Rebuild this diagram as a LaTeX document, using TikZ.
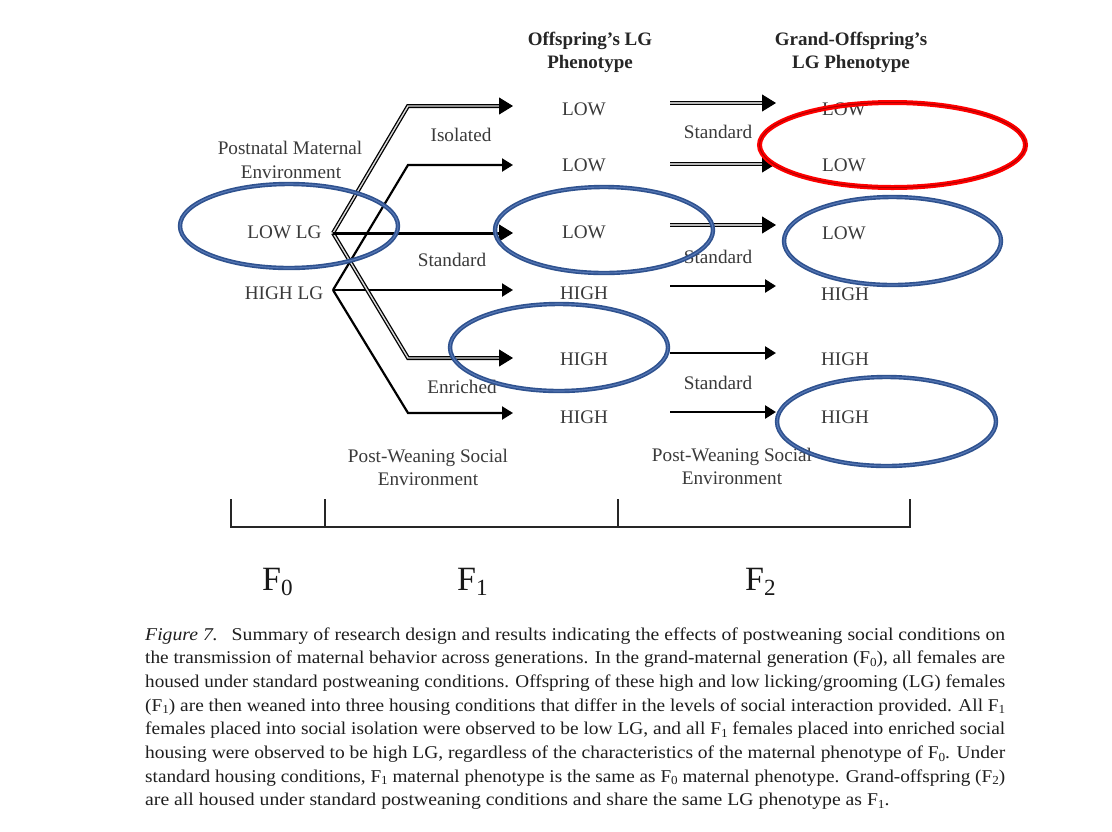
\documentclass[tikz,border=0pt]{standalone}
\usepackage{fontspec}
\setmainfont{Liberation Serif}
\usepackage{graphicx}
\usetikzlibrary{arrows.meta}

\definecolor{ink}{HTML}{3A3A3A}
\definecolor{capink}{HTML}{1E1E1E}
\definecolor{ovalblue}{HTML}{2F528F}
\definecolor{ovalblueinner}{HTML}{5677B5}
\definecolor{ovalred}{HTML}{FF0000}
\definecolor{ovalredinner}{HTML}{B00000}

\newlength\capnat
\newcommand\lowdigit[1]{\raisebox{-0.32ex}{\scalebox{0.68}{#1}}}
\newcommand\capfont{\fontsize{18}{22}\selectfont}
\newcommand\capfirst{\textit{Figure 7.}\hspace{0.7em}Summary of research design and results indicating the effects of postweaning social conditions on}

\begin{document}
\begin{tikzpicture}[x=1pt,y=-1pt,
  lbl/.style={font=\fontsize{19.2}{21}\selectfont, text=ink, inner sep=0pt, anchor=base},
  hdr/.style={font=\bfseries\fontsize{19}{22}\selectfont, text=black!85, inner sep=0pt, anchor=base},
  gen/.style={font=\fontsize{34}{36}\selectfont, text=black!90, inner sep=0pt, anchor=base west},
  capline/.style={font=\capfont, text=capink, inner sep=0pt, anchor=base west},
  single/.style={draw=black, line width=2.2pt},
  heavy/.style={draw=black, line width=3pt},
  hollow/.style={draw=black, line width=1.3pt, double=gray!30, double distance=1.4pt, line join=miter},
  hollowdark/.style={draw=black, line width=1.6pt, double=gray!55, double distance=1.3pt},
  bigtip/.style={-{Triangle[length=14pt,width=17pt]}, draw=black, line width=1pt},
  smalltip/.style={-{Triangle[length=11pt,width=13pt]}},
  oval/.style={draw=ovalblue, line width=4.4pt},
  ovalcore/.style={draw=ovalblueinner, line width=1.1pt},
  redoval/.style={draw=ovalred, line width=5pt},
  redcore/.style={draw=ovalredinner, line width=1pt},
  timeline/.style={draw=black!85, line width=2.4pt, line cap=rect}
]
\useasboundingbox[fill=white] (0,0) rectangle (1112,831);

% ---------- headers ----------
\node[hdr] (h1a) at (590,45.5) {Offspring’s LG};
\node[hdr] (h1b) at (590,68.5) {Phenotype};
\node[hdr] (h2a) at (851,45.5) {Grand-Offspring’s};
\node[hdr] (h2b) at (851,68.5) {LG Phenotype};

% ---------- maternal generation ----------
\node[lbl] (pm1) at (290,154) {Postnatal Maternal};
\node[lbl] (pm2) at (291,178) {Environment};
\node[lbl] (lowlg) at (284.5,238) {LOW LG};
\node[lbl] (highlg) at (284,299) {HIGH LG};

% ---------- offspring phenotypes ----------
\node[lbl] (o1) at (584,115) {LOW};
\node[lbl] (o2) at (584,171) {LOW};
\node[lbl] (o3) at (584,238) {LOW};
\node[lbl] (o4) at (584,299) {HIGH};
\node[lbl] (o5) at (584,365) {HIGH};
\node[lbl] (o6) at (584,423) {HIGH};

% ---------- grand-offspring phenotypes ----------
\node[lbl] (g1) at (844,115) {LOW};
\node[lbl] (g2) at (844,171) {LOW};
\node[lbl] (g3) at (844,239) {LOW};
\node[lbl] (g4) at (845,300) {HIGH};
\node[lbl] (g5) at (845,365) {HIGH};
\node[lbl] (g6) at (845,423) {HIGH};

% ---------- housing labels ----------
\node[lbl] (iso) at (461,141) {Isolated};
\node[lbl] (std) at (452,266) {Standard};
\node[lbl] (enr) at (462,393) {Enriched};
\node[lbl] (rs1) at (718,138) {Standard};
\node[lbl] (rs2) at (718,263) {Standard};
\node[lbl] (rs3) at (718,389) {Standard};

\node[lbl] (pw1a) at (428,462) {Post-Weaning Social};
\node[lbl] (pw1b) at (428,485) {Environment};
\node[lbl] (pw2a) at (732,461) {Post-Weaning Social};
\node[lbl] (pw2b) at (732,484) {Environment};

% ---------- branch points, corners and tips ----------
\coordinate (lowbr) at (333,233);
\coordinate (highbr) at (333,290);
\coordinate (ciso) at (408,106);  \coordinate (tiso) at (513,106);
\coordinate (chs) at (408,165);   \coordinate (ths) at (513,165);
\coordinate (tls) at (513,233);
\coordinate (thh) at (513,290);
\coordinate (cenl) at (408,358);  \coordinate (tenl) at (513,358);
\coordinate (cenh) at (408,413);  \coordinate (tenh) at (513,413);

\foreach \i/\yy in {1/103,2/164,3/225,4/286,5/353,6/412}{
  \coordinate (s\i) at (670,\yy);
  \coordinate (e\i) at (776,\yy);
}

% ---------- F0 -> F1 connectors ----------
\draw[single, smalltip] (highbr) -- (chs) -- (ths);
\draw[single, smalltip] (highbr) -- (thh);
\draw[single, smalltip] (highbr) -- (cenh) -- (tenh);
\draw[hollow, shorten >=9pt] (lowbr) -- (ciso) -- (tiso);
\draw[bigtip] ([xshift=-14pt]tiso) -- (tiso);
\draw[hollow, shorten >=9pt] (lowbr) -- (cenl) -- (tenl);
\draw[bigtip] ([xshift=-14pt]tenl) -- (tenl);
\draw[heavy, shorten >=9pt] (lowbr) -- (tls);
\draw[bigtip] ([xshift=-14pt]tls) -- (tls);

% ---------- F1 -> F2 connectors ----------
\foreach \i in {1,2,3}{
  \draw[hollowdark, shorten >=9pt] (s\i) -- (e\i);
  \draw[bigtip] ([xshift=-14pt]e\i) -- (e\i);
}
\foreach \i in {4,5,6}{
  \draw[heavy, line width=2.6pt, smalltip] (s\i) -- (e\i);
}

% ---------- generation timeline ----------
\coordinate (ta) at (231,527);
\coordinate (tb) at (325,527);
\coordinate (tc) at (618,527);
\coordinate (td) at (910,527);
\draw[timeline] (231,500) -- (ta) -- (td) -- (910,500);
\draw[timeline] (tb) -- (325,500);
\draw[timeline] (tc) -- (618,500);

\node[gen] (f0) at (262,590) {F\lowdigit{0}};
\node[gen] (f1) at (457,590) {F\lowdigit{1}};
\node[gen] (f2) at (745,590) {F\lowdigit{2}};

% ---------- caption ----------
\node[capline] (c1) at (145,640) {\resizebox{860pt}{\height}{\capfirst}};
\node[capline] (c2) at (145,663.7) {\resizebox{860pt}{\height}{the transmission of maternal behavior across generations. In the grand-maternal generation (F\lowdigit{0}), all females are}};
\node[capline] (c3) at (145,687.4) {\resizebox{860pt}{\height}{housed under standard postweaning conditions. Offspring of these high and low licking/grooming (LG) females}};
\node[capline] (c4) at (145,711.1) {\resizebox{860pt}{\height}{(F\lowdigit{1}) are then weaned into three housing conditions that differ in the levels of social interaction provided. All F\lowdigit{1}}};
\node[capline] (c5) at (145,734.8) {\resizebox{860pt}{\height}{females placed into social isolation were observed to be low LG, and all F\lowdigit{1} females placed into enriched social}};
\node[capline] (c6) at (145,758.5) {\resizebox{860pt}{\height}{housing were observed to be high LG, regardless of the characteristics of the maternal phenotype of F\lowdigit{0}. Under}};
\node[capline] (c7) at (145,782.2) {\resizebox{860pt}{\height}{standard housing conditions, F\lowdigit{1} maternal phenotype is the same as F\lowdigit{0} maternal phenotype. Grand-offspring (F\lowdigit{2})}};
\node[capline] (c8) at (145,805.9) {\settowidth{\capnat}{\capfirst}\pgfmathsetmacro\capfac{860/\capnat}\scalebox{\capfac}[1]{are all housed under standard postweaning conditions and share the same LG phenotype as F\lowdigit{1}.}};

% ---------- highlight ovals ----------
\foreach \cx/\cy/\rx/\ry in {289/226/109/42, 604/230/109/43, 559/347.5/109/43.5, 892.5/241/108.5/44, 886.5/421.5/109.5/44.5}{
  \draw[oval] (\cx,\cy) ellipse [x radius=\rx, y radius=\ry];
  \draw[ovalcore] (\cx,\cy) ellipse [x radius=\rx, y radius=\ry];
}
\draw[redoval] (892.5,145) ellipse [x radius=133, y radius=42.5];
\draw[redcore] (892.5,145) ellipse [x radius=133, y radius=42.5];
\end{tikzpicture}
\end{document}
